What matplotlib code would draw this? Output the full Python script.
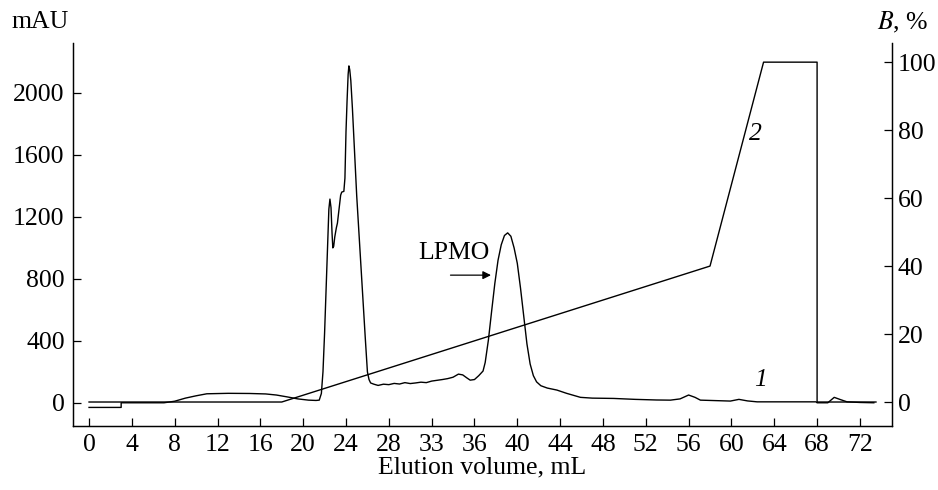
import matplotlib

matplotlib.use("Agg")

import matplotlib.pyplot as plt

plt.rcParams["font.family"] = ["Liberation Serif", "DejaVu Serif"]
plt.rcParams["mathtext.fontset"] = "stix"

# Curve 1: absorbance, mAU
vol_abs = [0, 3, 3, 7, 8, 9, 10, 11, 13, 15, 16.5, 17.5, 18.5, 19.5, 20.5, 21.2, 21.5,
           21.7, 21.85, 22.0, 22.15, 22.3, 22.4, 22.5, 22.6, 22.7, 22.77, 22.85, 22.95,
           23.1, 23.2, 23.35, 23.5, 23.6, 23.8, 23.9, 24.0, 24.1, 24.2, 24.27, 24.35,
           24.45, 24.6, 25.0, 25.5, 25.8, 26.0, 26.15, 26.3, 26.6, 27.0, 27.5, 28, 28.5,
           29, 29.5, 30, 30.5, 31, 31.5, 32, 32.5, 33, 33.5, 34, 34.5, 34.9, 35.3, 35.6,
           36.0, 36.4, 36.8, 37.0, 37.3, 37.6, 37.9, 38.2, 38.5, 38.8, 39.1, 39.4, 39.7,
           40.0, 40.3, 40.6, 40.9, 41.2, 41.5, 41.8, 42.2, 42.8, 43.7, 44.6, 45.9, 47,
           49, 51, 53, 54.3, 55.2, 56.0, 56.6, 57.1, 58.5, 59.9, 60.7, 61.5, 62.4, 65,
           67.9, 68, 69, 69.6, 70.2, 70.8, 72, 73.3]
mau = [-30, -30, 0, 0, 10, 30, 45, 58, 61, 60, 57, 50, 38, 25, 17, 15, 17,
       60, 200, 450, 750, 1050, 1250, 1315, 1260, 1090, 1000, 1010, 1070,
       1130, 1160, 1250, 1340, 1360, 1365, 1450, 1750, 1950, 2120, 2175, 2150,
       2080, 1900, 1337, 763, 419, 200, 150, 128, 120, 112, 120, 117, 125,
       121, 130, 124, 128, 133, 130, 140, 145, 150, 156, 165, 185, 180, 160, 146,
       150, 175, 205, 260, 405, 590, 770, 920, 1020, 1080, 1097, 1075, 1000,
       900, 740, 560, 380, 250, 175, 135, 110, 95, 82, 61, 35, 30,
       28, 22, 18, 17, 25, 50, 35, 17, 14, 11, 22, 12, 6, 6,
       6, 0, 0, 35, 20, 6, 2, 0]

# Curve 2: gradient of buffer B, %
vol_grad = [0, 18, 58, 63, 68, 68, 73.5]
buffer_b = [0, 0, 40, 100, 100, 0, 0]

xticks = list(range(0, 73, 4))
xticklabels = ["0", "4", "8", "12", "16", "20", "24", "28", "33", "36", "40",
               "44", "48", "52", "56", "60", "64", "68", "72"]
yticks_left = [0, 400, 800, 1200, 1600, 2000]
yticks_right = [0, 20, 40, 60, 80, 100]

fig = plt.figure(figsize=(9.38, 4.9), dpi=100)
ax = fig.add_axes([0.0778, 0.1306, 0.8732, 0.7814])
ax2 = ax.twinx()

ax.plot(vol_abs, mau, color="black", linewidth=1.0)
ax2.plot(vol_grad, buffer_b, color="black", linewidth=1.0)

ax.set_xlim(-1.5, 75)
ax.set_ylim(-150, 2322)
ax2.set_ylim(-7.06, 105.6)

ax.set_xticks(xticks)
ax.set_xticklabels(xticklabels)
ax.set_yticks(yticks_left)
ax2.set_yticks(yticks_right)

for a in (ax, ax2):
    a.spines["top"].set_visible(False)
    a.tick_params(direction="in", length=6, width=0.9, labelsize=18.5, pad=6)
    for s in a.spines.values():
        s.set_linewidth(0.9)
ax2.tick_params(pad=4)

ax.set_xlabel("Elution volume, mL", fontsize=18.5, labelpad=0)
fig.text(0.012, 0.955, "mAU", fontsize=18.5, ha="left", va="center")
fig.text(0.99, 0.955, "$B$, %", fontsize=18.5, ha="right", va="center")

ax.text(34.1, 966, "LPMO", fontsize=18.5, ha="center", va="center")
ax.annotate("", xy=(37.8, 824), xytext=(33.5, 824),
            arrowprops=dict(arrowstyle="-|>", color="black", lw=0.9,
                            mutation_scale=12))
ax2.text(62.2, 79, "2", fontsize=18.5, style="italic", ha="center", va="center")
ax.text(62.7, 146, "1", fontsize=18.5, style="italic", ha="center", va="center")

fig.savefig("out.png", dpi=100)
